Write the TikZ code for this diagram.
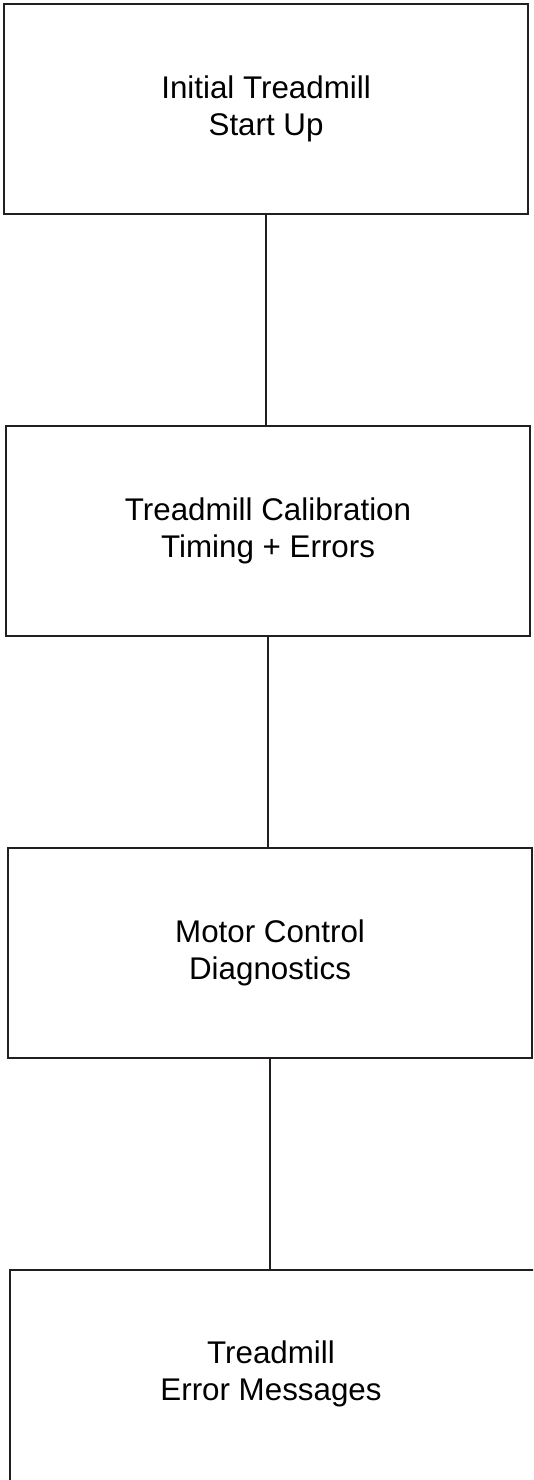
\documentclass[tikz,border=0pt]{standalone}
\usepackage{fontspec}
\setmainfont{Liberation Sans}
\definecolor{ink}{RGB}{35,31,32}
\begin{document}
\begin{tikzpicture}[x=0.75pt,y=-0.75pt,
  box/.style={draw=ink, line width=1.6pt, fill=white, anchor=north west,
    align=center, font=\fontsize{23.5}{27.5}\selectfont, text=black,
    minimum width=393pt, minimum height=157.5pt, inner sep=0pt},
  link/.style={draw=ink, line width=1.6pt}]
\useasboundingbox (0,0) rectangle (533,1480);
\clip (0,0) rectangle (533,1480);
\node[box] (b1) at (3,3) {Initial Treadmill\\Start Up};
\node[box] (b2) at (5,425) {Treadmill Calibration\\Timing + Errors};
\node[box] (b3) at (7,847) {Motor Control\\Diagnostics};
\node[box, minimum width=399pt, minimum height=158.25pt] (b4) at (9,1269) {};
\node[font=\fontsize{23.5}{27.5}\selectfont, align=center, inner sep=0pt] (t4) at (271,1374) {Treadmill\\Error Messages};
\draw[link] (b1.south) -- (b1.south |- b2.north);
\draw[link] (b2.south) -- (b2.south |- b3.north);
\draw[link] (b3.south) -- (b3.south |- b4.north);
\end{tikzpicture}
\end{document}
